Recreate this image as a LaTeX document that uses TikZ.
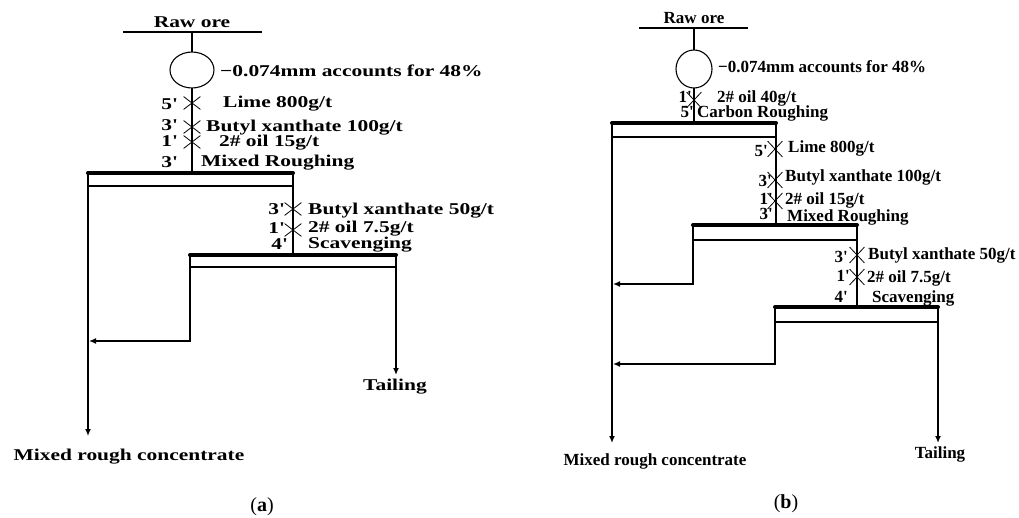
\documentclass[tikz,border=0pt]{standalone}
\usepackage{fontspec}
\setmainfont{Liberation Serif}
\newfontfamily\widefont[FakeStretch=1.3]{Liberation Serif}
\usetikzlibrary{shapes.geometric,shapes.misc,arrows.meta}

\begin{document}
\begin{tikzpicture}[x=1pt, y=-1pt, >={Latex[length=7pt,width=6pt]},
    flow/.style={line width=1.4pt},
    bar/.style={line width=4pt, line cap=round},
    cell/.style={draw, line width=1.1pt, inner sep=0pt, outer sep=0pt, anchor=north west},
    mill/.style={draw, ellipse, line width=1.1pt, inner sep=0pt, outer sep=0pt},
    dose/.style={draw, cross out, line width=0.8pt, inner sep=0pt, minimum width=16pt, minimum height=12pt},
    doseb/.style={dose, minimum width=14pt, minimum height=15pt},
    txa/.style={inner sep=0pt, font=\widefont\bfseries\fontsize{16.5}{18}\selectfont},
    txb/.style={inner sep=0pt, font=\bfseries\fontsize{17}{19}\selectfont}]
\useasboundingbox (0,0) rectangle (1019,518);

% ---------- (a) ----------
% Cấp liệu và nghiền
\coordinate (aFeedL) at (123,32);
\coordinate (aFeedR) at (262,32);
\coordinate (aFeed) at (192,32);
\node[mill, minimum width=44pt, minimum height=36pt] (aMill) at (192,70) {};
\node[txa, anchor=base] (aRaw) at (192,28) {Raw ore};
\node[txa, anchor=base west] (aSize) at (220,77) {−0.074mm accounts for 48\%};

% Các máy tuyển
\node[cell, minimum width=205pt, minimum height=13pt] (aRough) at (88,173) {};
\node[cell, minimum width=206pt, minimum height=12pt] (aScav) at (190,255) {};
\coordinate (aMid) at (89,341);
\coordinate (aConcEnd) at (88,436);
\coordinate (aTailEnd) at (396,375);

% Đường dòng chảy
\draw[flow] (aFeedL) -- (aFeedR);
\draw[flow] (aFeed) -- (aMill.north);
\draw[flow] (aMill.south) -- (aMill.south |- aRough.north);
\draw[flow,->] (aRough.south west) -- (aConcEnd);
\draw[flow] (aRough.south east) -- (aRough.south east |- aScav.north);
\draw[flow,->] (aScav.south west) |- (aMid);
\draw[flow,->] (aScav.south east) -- (aTailEnd);
\draw[bar] (aRough.north west) -- (aRough.north east);
\draw[bar] (aScav.north west) -- (aScav.north east);

% Thuốc tuyển
\node[dose] (aX1) at (192,103) {};
\node[dose] (aX2) at (192,127) {};
\node[dose] (aX3) at (192,142) {};
\node[dose] (aX4) at (293,209) {};
\node[dose] (aX5) at (293,230) {};
\node[txa, anchor=base east] (aT1) at (177,110) {5\textquotesingle};
\node[txa, anchor=base east] (aT2) at (177,131) {3\textquotesingle};
\node[txa, anchor=base east] (aT3) at (177,147) {1\textquotesingle};
\node[txa, anchor=base east] (aT4) at (177,168) {3\textquotesingle};
\node[txa, anchor=base east] (aT5) at (284,215) {3\textquotesingle};
\node[txa, anchor=base east] (aT6) at (284,234) {1\textquotesingle};
\node[txa, anchor=base east] (aT7) at (287,250) {4\textquotesingle};
\node[txa, anchor=base west] (aR1) at (223,108) {Lime 800g/t};
\node[txa, anchor=base west] (aR2) at (206,132) {Butyl xanthate 100g/t};
\node[txa, anchor=base west] (aR3) at (219,147) {2\# oil 15g/t};
\node[txa, anchor=base west] (aR4) at (201,167) {Mixed Roughing};
\node[txa, anchor=base west] (aR5) at (308,215) {Butyl xanthate 50g/t};
\node[txa, anchor=base west] (aR6) at (308,233) {2\# oil 7.5g/t};
\node[txa, anchor=base west] (aR7) at (308,249) {Scavenging};

% Sản phẩm
\node[txa, anchor=base] (aConc) at (129,460) {Mixed rough concentrate};
\node[txa, anchor=base west] (aTail) at (363,390) {Tailing};
\node[font=\fontsize{20}{22}\selectfont] (capA) at (262,507) {(\textbf{a})};

% ---------- (b) ----------
% Cấp liệu và nghiền
\coordinate (bFeedL) at (639,28);
\coordinate (bFeedR) at (748,28);
\coordinate (bFeed) at (694,28);
\node[mill, minimum width=36pt, minimum height=38pt] (bMill) at (694,69) {};
\node[txb, anchor=base] (bRaw) at (694,24) {Raw ore};
\node[txb, anchor=base west] (bSize) at (718,73) {−0.074mm accounts for 48\%};

% Các máy tuyển
\node[cell, minimum width=164pt, minimum height=14pt] (bCarb) at (612,123) {};
\node[cell, minimum width=164pt, minimum height=15pt] (bMix) at (693,225) {};
\node[cell, minimum width=163pt, minimum height=15pt] (bScav) at (775,307) {};
\coordinate (bMid1) at (613,284);
\coordinate (bMid2) at (613,364);
\coordinate (bConcEnd) at (612,443);
\coordinate (bTailEnd) at (938,443);

% Đường dòng chảy
\draw[flow] (bFeedL) -- (bFeedR);
\draw[flow] (bFeed) -- (bMill.north);
\draw[flow] (bMill.south) -- (bMill.south |- bCarb.north);
\draw[flow,->] (bCarb.south west) -- (bConcEnd);
\draw[flow] (bCarb.south east) -- (bCarb.south east |- bMix.north);
\draw[flow,->] (bMix.south west) |- (bMid1);
\draw[flow] (bMix.south east) -- (bMix.south east |- bScav.north);
\draw[flow,->] (bScav.south west) |- (bMid2);
\draw[flow,->] (bScav.south east) -- (bTailEnd);
\draw[bar] (bCarb.north west) -- (bCarb.north east);
\draw[bar] (bMix.north west) -- (bMix.north east);
\draw[bar] (bScav.north west) -- (bScav.north east);

% Thuốc tuyển
\node[doseb] (bX1) at (694,100) {};
\node[doseb] (bX2) at (775,149) {};
\node[doseb] (bX3) at (775,180) {};
\node[doseb] (bX4) at (775,201) {};
\node[doseb] (bX5) at (857,255) {};
\node[doseb] (bX6) at (857,277) {};
\node[txb, anchor=base east] (bT1) at (692,103) {1\textquotesingle};
\node[txb, anchor=base east] (bT2) at (694,118) {5\textquotesingle};
\node[txb, anchor=base east] (bT3) at (768,157) {5\textquotesingle};
\node[txb, anchor=base east] (bT4) at (772,187) {3\textquotesingle};
\node[txb, anchor=base east] (bT5) at (773,205) {1\textquotesingle};
\node[txb, anchor=base east] (bT6) at (773,220) {3\textquotesingle};
\node[txb, anchor=base east] (bT7) at (848,263) {3\textquotesingle};
\node[txb, anchor=base east] (bT8) at (850,282) {1\textquotesingle};
\node[txb, anchor=base east] (bT9) at (848,303) {4\textquotesingle};
\node[txb, anchor=base west] (bR1) at (717,103) {2\# oil 40g/t};
\node[txb, anchor=base west] (bR2) at (697,118) {Carbon Roughing};
\node[txb, anchor=base west] (bR3) at (788,153) {Lime 800g/t};
\node[txb, anchor=base west] (bR4) at (785,182) {Butyl xanthate 100g/t};
\node[txb, anchor=base west] (bR5) at (785,205) {2\# oil 15g/t};
\node[txb, anchor=base west] (bR6) at (787,222) {Mixed Roughing};
\node[txb, anchor=base west] (bR7) at (868,260) {Butyl xanthate 50g/t};
\node[txb, anchor=base west] (bR8) at (867,283) {2\# oil 7.5g/t};
\node[txb, anchor=base west] (bR9) at (872,302) {Scavenging};

% Sản phẩm
\node[txb, anchor=base] (bConc) at (655,465) {Mixed rough concentrate};
\node[txb, anchor=base] (bTail) at (940,458) {Tailing};
\node[font=\fontsize{20}{22}\selectfont] (capB) at (786,504) {(\textbf{b})};
\end{tikzpicture}
\end{document}
